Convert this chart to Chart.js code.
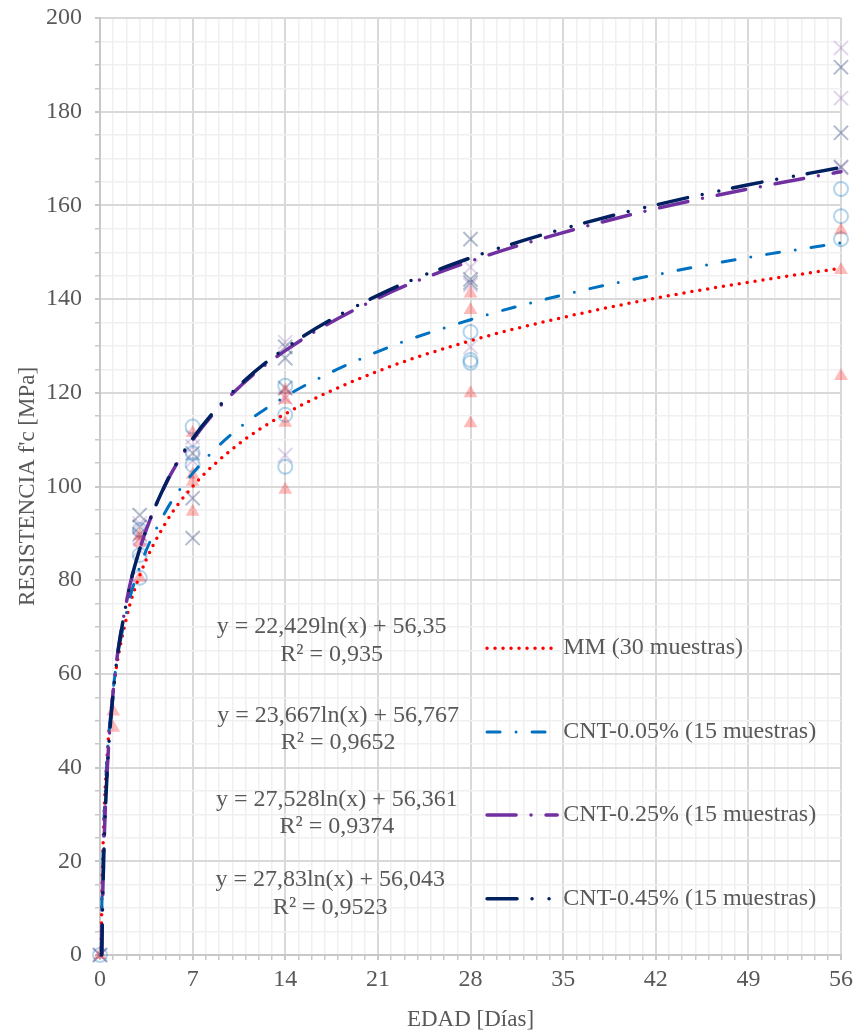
<!DOCTYPE html>
<html>
<head>
<meta charset="utf-8">
<script src="https://cdn.jsdelivr.net/npm/chart.js@4.4.1/dist/chart.umd.min.js"></script>
<style>
    html, body { margin: 0; padding: 0; background: #ffffff; }
</style>
</head>
<body>
<canvas id="chart" width="856" height="1034"></canvas>
<script>
const seriesLabels = ['MM (30 muestras)', 'CNT-0.05% (15 muestras)', 'CNT-0.25% (15 muestras)', 'CNT-0.45% (15 muestras)'];
const equations = [
    ['y = 22,429ln(x) + 56,35', 'R² = 0,935'],
    ['y = 23,667ln(x) + 56,767', 'R² = 0,9652'],
    ['y = 27,528ln(x) + 56,361', 'R² = 0,9374'],
    ['y = 27,83ln(x) + 56,043', 'R² = 0,9523']
];
const xTicks = [0, 7, 14, 21, 28, 35, 42, 49, 56];
const yTicks = [0, 20, 40, 60, 80, 100, 120, 140, 160, 180, 200];

// ensayos (edad en días / f'c en MPa)
const mmAge = [0, 1, 1, 3, 3, 3, 7, 7, 7, 7, 14, 14, 14, 14, 28, 28, 28, 28, 56, 56, 56];
const mmFc = [0, 52, 48.5, 89.5, 88, 80.5, 111.4, 102.5, 101, 94.6, 120.5, 118.5, 113.6, 99.3, 141.2, 137.7, 119.9, 113.5, 154.7, 146.2, 123.6];
const cntAge = [0, 3, 3, 3, 7, 7, 7, 14, 14, 14, 28, 28, 28, 56, 56, 56];
const cnt005Fc = [0, 90.7, 85.4, 80.5, 112.8, 107.1, 104.6, 121.5, 115.3, 104.2, 133, 127, 126.4, 163.5, 157.7, 152.8];
const cnt025Fc = [0, 92.1, 89, 86.5, 108.5, 105.5, 110.5, 130.8, 118.9, 106.7, 146.8, 143, 129.8, 193.6, 182.9, 168];
const cnt045Fc = [0, 93.9, 91.4, 89.8, 107.1, 97.5, 89, 129.8, 127.4, 121, 152.8, 144.2, 143.5, 189.5, 175.5, 168.2];

// líneas de tendencia
const trendAgeMM = [0.08, 0.15, 0.3, 0.5, 1, 2, 3, 5, 7, 10, 14, 21, 28, 35, 42, 49, 56];
const trendMM = [0, 13.8, 29.3, 40.8, 56.4, 71.9, 81, 92.4, 100, 108, 115.5, 124.6, 131.1, 136.1, 140.2, 143.6, 146.6];
const trendAge005 = [0.09, 0.15, 0.3, 0.5, 1, 2, 3, 5, 7, 10, 14, 21, 28, 35, 42, 49, 56];
const trend005 = [0, 11.9, 28.3, 40.4, 56.8, 73.2, 82.8, 94.9, 102.8, 111.3, 119.2, 128.8, 135.6, 140.9, 145.2, 148.9, 152];
const trendAge025 = [0.13, 0.2, 0.3, 0.5, 1, 2, 3, 5, 7, 10, 14, 21, 28, 35, 42, 49, 56];
const trend025 = [0.2, 12.1, 23.2, 37.3, 56.4, 75.4, 86.6, 100.7, 109.9, 119.8, 129, 140.2, 148.1, 154.2, 159.3, 163.5, 167.2];
const trendAge045 = [0.13, 0.2, 0.3, 0.5, 1, 2, 3, 5, 7, 10, 14, 21, 28, 35, 42, 49, 56];
const trend045 = [0, 11.3, 22.5, 36.8, 56, 75.3, 86.6, 100.8, 110.2, 120.1, 129.5, 140.8, 148.8, 155, 160.1, 164.4, 168.1];

const fontFamily = '"Liberation Serif", "Times New Roman", serif';
const textColor = '#595959';
const majorGrid = '#D9D9D9';
const minorGrid = '#F0F0F0';

function toPoints(xs, ys) {
    return xs.map((x, i) => ({ x: x, y: ys[i] }));
}

function trendDataset(label, xs, ys, color, dash, width) {
    return {
        type: 'line',
        label: label,
        data: toPoints(xs, ys),
        borderColor: color,
        borderWidth: width,
        borderDash: dash,
        borderCapStyle: 'round',
        pointRadius: 0,
        fill: false,
        showLine: true,
        cubicInterpolationMode: 'monotone',
        clip: false,
        order: 0
    };
}

function sampleDataset(xs, ys, style, fill, stroke, radius, width) {
    return {
        type: 'scatter',
        label: '',
        data: toPoints(xs, ys),
        pointStyle: style,
        pointRadius: radius,
        pointBackgroundColor: fill,
        pointBorderColor: stroke,
        pointBorderWidth: width,
        showLine: false,
        clip: false,
        order: 1
    };
}

const datasets = [
    trendDataset(seriesLabels[3], trendAge045, trend045, '#002060', [30, 15, 0, 17, 0, 14], 3.5),
    trendDataset(seriesLabels[2], trendAge025, trend025, '#7030A0', [29, 15, 0, 15], 3.5),
    trendDataset(seriesLabels[1], trendAge005, trend005, '#0070C0', [13, 16, 0, 16], 3),
    trendDataset(seriesLabels[0], trendAgeMM, trendMM, '#FF0000', [0, 8], 3.5),
    sampleDataset(mmAge, mmFc, 'triangle', 'rgba(255,0,0,0.27)', 'rgba(255,0,0,0)', 8, 0),
    sampleDataset(cntAge, cnt005Fc, 'circle', 'rgba(0,0,0,0)', 'rgba(0,112,192,0.3)', 7, 2),
    sampleDataset(cntAge, cnt025Fc, 'crossRot', 'rgba(0,0,0,0)', 'rgba(112,48,160,0.2)', 10, 2),
    sampleDataset(cntAge, cnt045Fc, 'crossRot', 'rgba(0,0,0,0)', 'rgba(0,32,96,0.3)', 10, 2)
];

// ecuaciones y leyenda dibujadas dentro del área del gráfico
const eqCenters = [[17.5, 70, 64], [18, 51, 45.3], [17.9, 33.1, 27.3], [17.4, 16, 10]];
const legendRows = [65.5, 47.6, 29.9, 12];

const overlayPlugin = {
    id: 'overlay',
    afterDatasetsDraw(chart) {
        const { ctx, scales: { x, y } } = chart;
        ctx.save();
        ctx.font = '24px ' + fontFamily;
        ctx.fillStyle = textColor;
        ctx.textAlign = 'center';
        ctx.textBaseline = 'middle';
        equations.forEach((lines, i) => {
            const cx = x.getPixelForValue(eqCenters[i][0]);
            ctx.fillText(lines[0], cx, y.getPixelForValue(eqCenters[i][1]));
            ctx.fillText(lines[1], cx, y.getPixelForValue(eqCenters[i][2]));
        });

        const x0 = x.getPixelForValue(29.25);
        const x1 = x.getPixelForValue(34.55);
        const xt = x.getPixelForValue(35);
        seriesLabels.forEach((label, i) => {
            const ds = chart.data.datasets.find(d => d.label === label);
            const py = y.getPixelForValue(legendRows[i]);
            ctx.strokeStyle = ds.borderColor;
            ctx.lineWidth = ds.borderWidth;
            ctx.lineCap = 'round';
            ctx.setLineDash(ds.borderDash);
            ctx.beginPath();
            ctx.moveTo(x0, py);
            ctx.lineTo(x1, py);
            ctx.stroke();
            ctx.setLineDash([]);
            ctx.textAlign = 'left';
            ctx.fillText(label, xt, py);
        });
        ctx.restore();
    }
};

new Chart(document.getElementById('chart'), {
    type: 'scatter',
    data: { datasets: datasets },
    options: {
        responsive: false,
        animation: false,
        devicePixelRatio: 1,
        layout: { padding: 0 },
        plugins: {
            legend: { display: false },
            tooltip: { enabled: false }
        },
        scales: {
            x: {
                type: 'linear',
                min: 0,
                max: 56,
                afterFit(scale) {
                    scale.height = 79;
                    scale.paddingLeft = 0;
                    scale.paddingRight = 15;
                },
                ticks: {
                    stepSize: 1,
                    autoSkip: false,
                    maxRotation: 0,
                    padding: 5,
                    color: textColor,
                    font: { family: fontFamily, size: 24 },
                    callback: v => xTicks.includes(v) ? v : ''
                },
                grid: {
                    color: c => xTicks.includes(c.tick.value) ? majorGrid : minorGrid,
                    lineWidth: c => xTicks.includes(c.tick.value) ? 2 : 1.5,
                    tickColor: '#C8C8C8',
                    tickLength: 5
                },
                border: { color: '#C8C8C8', width: 2 },
                title: {
                    display: true,
                    text: 'EDAD [Días]',
                    color: textColor,
                    font: { family: fontFamily, size: 23 },
                    padding: { top: 0, bottom: 0 }
                }
            },
            y: {
                type: 'linear',
                min: 0,
                max: 200,
                afterFit(scale) {
                    scale.width = 100;
                    scale.paddingTop = 18;
                    scale.paddingBottom = 0;
                },
                ticks: {
                    stepSize: 5,
                    autoSkip: false,
                    padding: 13,
                    color: textColor,
                    font: { family: fontFamily, size: 24 },
                    callback: v => yTicks.includes(v) ? v : ''
                },
                grid: {
                    color: c => yTicks.includes(c.tick.value) ? majorGrid : minorGrid,
                    lineWidth: c => yTicks.includes(c.tick.value) ? 2 : 1.5,
                    tickColor: '#C8C8C8',
                    tickLength: 5
                },
                border: { color: '#C8C8C8', width: 2 },
                title: {
                    display: true,
                    text: "RESISTENCIA f'c [MPa]",
                    color: textColor,
                    font: { family: fontFamily, size: 23 },
                    padding: { top: 14, bottom: 0 }
                }
            }
        }
    },
    plugins: [overlayPlugin]
});
</script>
</body>
</html>
